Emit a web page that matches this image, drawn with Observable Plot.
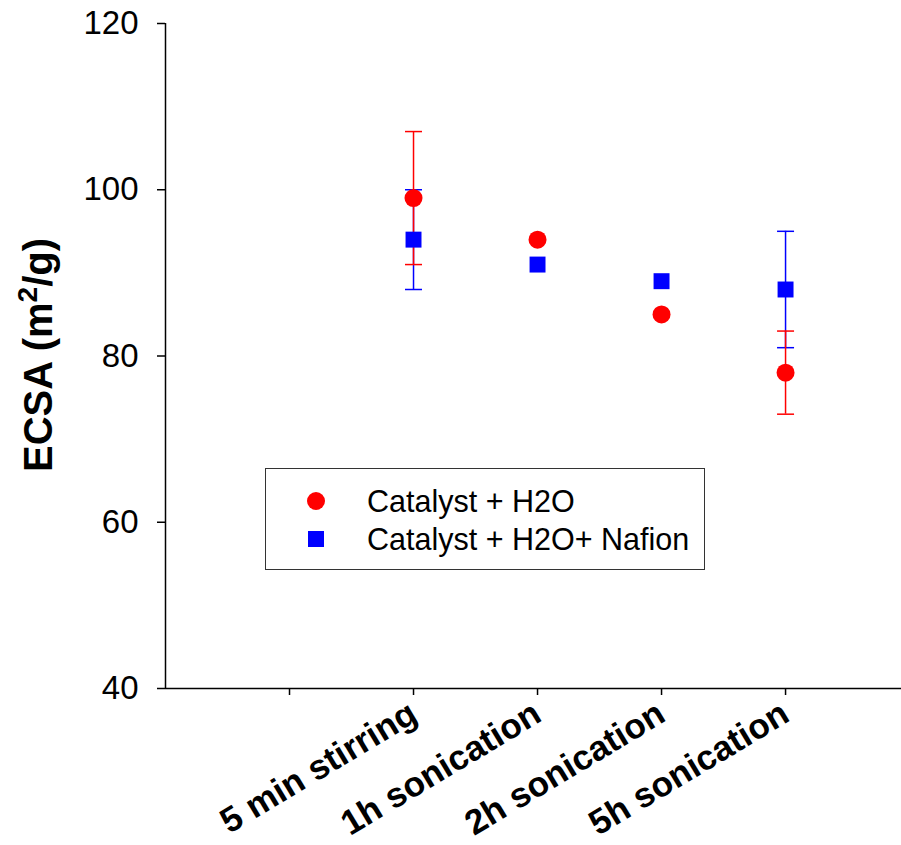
<!DOCTYPE html>
<html>
<head>
<meta charset="utf-8">
<script src="https://cdn.jsdelivr.net/npm/d3@7"></script>
<script src="https://cdn.jsdelivr.net/npm/@observablehq/plot@0.6"></script>
<style>
  html, body { margin: 0; padding: 0; background: #fff; }
  #wrap { position: relative; width: 901px; height: 845px; font-family: "Liberation Sans", Arial, sans-serif; }
  #legend { position: absolute; left: 265px; top: 468px; width: 438px; height: 100px; border: 1.5px solid #333; background: #fff; }
  .lrow { position: absolute; left: 0; height: 34px; display: flex; align-items: center; }
  .lrow svg { position: absolute; left: 38px; }
  .lrow span { position: absolute; left: 101px; white-space: nowrap; font-size: 30.5px; color: #000; }
</style>
</head>
<body>
<div id="wrap"></div>
<script>
// ---- data ----
const xTickPositions = [1, 2, 3, 4, 5];
const xTickLabels = ["", "5 min stirring", "1h sonication", "2h sonication", "5h sonication"];
const categories = ["5 min stirring", "1h sonication", "2h sonication", "5h sonication"];
const h2oValues = [99, 94, 85, 78];
const h2oErrors = [8, 0, 0, 5];
const nafionValues = [94, 91, 89, 88];
const nafionErrors = [6, 0, 0, 7];
const yTicks = [40, 60, 80, 100, 120];
const seriesNames = ["Catalyst + H2O", "Catalyst + H2O+ Nafion"];
const seriesColors = ["#ff0000", "#0000ff"];
const seriesSymbols = ["circle", "square"];

const xOf = c => xTickLabels.indexOf(c) + 1;
const makeRows = (vals, errs) => categories.map((c, i) => ({x: xOf(c), y: vals[i], lo: vals[i] - errs[i], hi: vals[i] + errs[i], e: errs[i]}));
const h2o = makeRows(h2oValues, h2oErrors);
const naf = makeRows(nafionValues, nafionErrors);
const h2oErr = h2o.filter(d => d.e > 0);
const nafErr = naf.filter(d => d.e > 0);

// horizontal cap symbol
const capSymbol = { draw(context, size) { const w = Math.sqrt(size / Math.PI); context.moveTo(-w, 0); context.lineTo(w, 0); } };

const chart = Plot.plot({
  width: 901,
  height: 845,
  marginLeft: 165,
  marginTop: 23,
  marginBottom: 157,
  marginRight: 0,
  style: { fontFamily: "'Liberation Sans', Arial, sans-serif", fontSize: "33px", color: "#000", background: "#fff" },
  x: { domain: [0, 5.935] },
  y: { domain: [40, 120] },
  marks: [
    Plot.axisY({ ticks: yTicks, tickSize: 8, tickPadding: 19, label: null, strokeWidth: 1.5, fontSize: 33 }),
    Plot.axisX({ ticks: xTickPositions, tickFormat: d => xTickLabels[d - 1], tickSize: 7, tickRotate: -31, tickPadding: 15, label: null, fontWeight: "bold", fontSize: 35, strokeWidth: 1.5 }),
    Plot.ruleX([0], { stroke: "#000", strokeWidth: 1.5 }),
    Plot.ruleY([40], { stroke: "#000", strokeWidth: 1.5 }),
    Plot.ruleX(nafErr, { x: "x", y1: "lo", y2: "hi", stroke: seriesColors[1], strokeWidth: 1.5 }),
    Plot.dot(nafErr, { x: "x", y: "lo", symbol: capSymbol, r: 8.5, stroke: seriesColors[1], strokeWidth: 1.5 }),
    Plot.dot(nafErr, { x: "x", y: "hi", symbol: capSymbol, r: 8.5, stroke: seriesColors[1], strokeWidth: 1.5 }),
    Plot.ruleX(h2oErr, { x: "x", y1: "lo", y2: "hi", stroke: seriesColors[0], strokeWidth: 1.5 }),
    Plot.dot(h2oErr, { x: "x", y: "lo", symbol: capSymbol, r: 8.5, stroke: seriesColors[0], strokeWidth: 1.5 }),
    Plot.dot(h2oErr, { x: "x", y: "hi", symbol: capSymbol, r: 8.5, stroke: seriesColors[0], strokeWidth: 1.5 }),
    Plot.dot(h2o, { x: "x", y: "y", r: 9, symbol: seriesSymbols[0], fill: seriesColors[0], stroke: "none" }),
    Plot.dot(naf, { x: "x", y: "y", r: 9, symbol: seriesSymbols[1], fill: seriesColors[1], stroke: "none" })
  ]
});

const wrap = document.getElementById("wrap");
wrap.appendChild(chart);

// y-axis title with superscript
const svg = d3.select(chart);
const t = svg.append("text")
  .attr("transform", "translate(52,355) rotate(-90)")
  .attr("text-anchor", "middle")
  .attr("font-weight", "bold")
  .attr("font-size", 40)
  .attr("fill", "#000");
t.append("tspan").text("ECSA (m");
t.append("tspan").attr("font-size", 28).attr("dy", -15).text("2");
t.append("tspan").attr("dy", 15).text("/g)");

// legend
const legend = document.createElement("div");
legend.id = "legend";
seriesNames.forEach((name, i) => {
  const row = document.createElement("div");
  row.className = "lrow";
  row.style.top = (15 + i * 38) + "px";
  const s = d3.create("svg").attr("width", 24).attr("height", 24);
  if (seriesSymbols[i] === "circle") s.append("circle").attr("cx", 12).attr("cy", 12).attr("r", 9).attr("fill", seriesColors[i]);
  else s.append("rect").attr("x", 4).attr("y", 4).attr("width", 16).attr("height", 16).attr("fill", seriesColors[i]);
  row.appendChild(s.node());
  const sp = document.createElement("span");
  sp.textContent = name;
  row.appendChild(sp);
  legend.appendChild(row);
});
wrap.appendChild(legend);
</script>
</body>
</html>
